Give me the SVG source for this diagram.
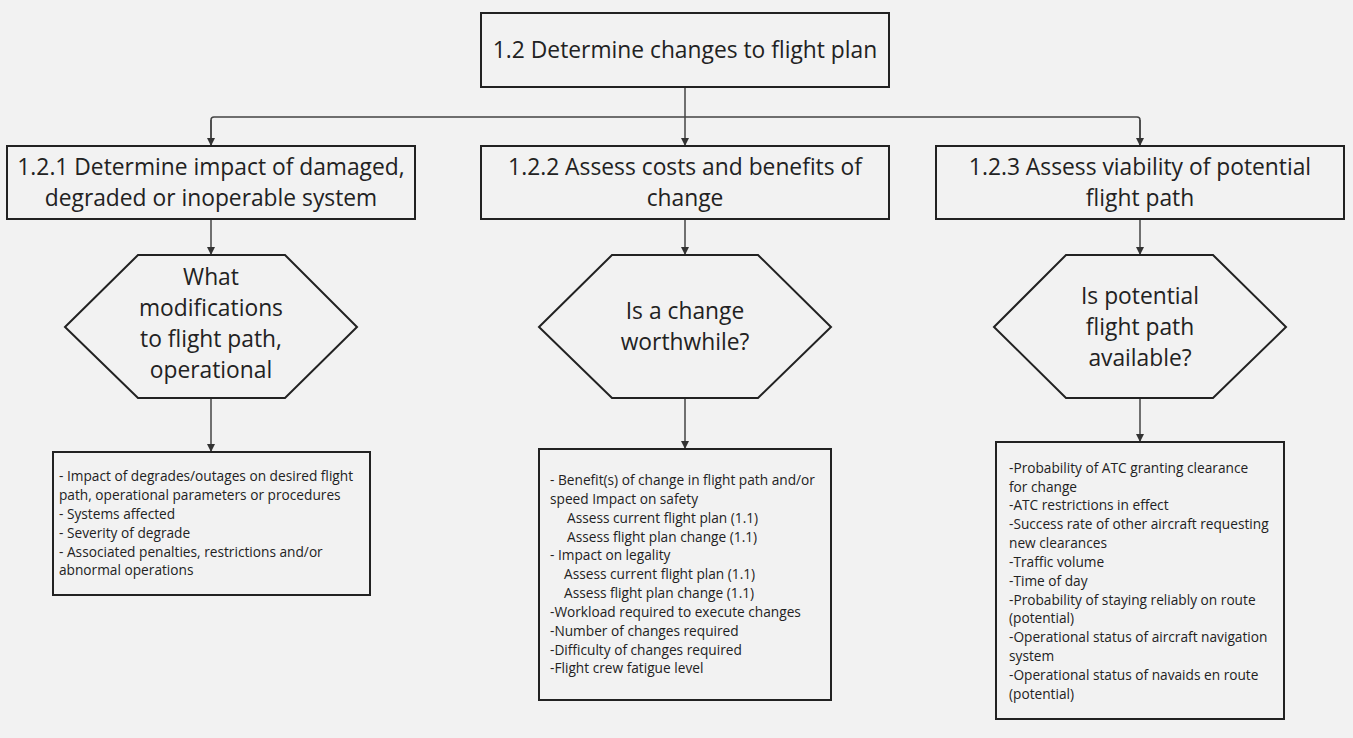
<svg xmlns="http://www.w3.org/2000/svg" width="1353" height="738" viewBox="0 0 1353 738">
<defs>
<marker id="arr" viewBox="0 0 10 10" refX="10" refY="5" markerWidth="8" markerHeight="8" markerUnits="userSpaceOnUse" orient="auto">
<path d="M0,0 L10,5 L0,10 z" fill="#333"/>
</marker>
<style>
.box{fill:#f2f2f2;stroke:#222;stroke-width:2}
.t{font-family:"Open Sans","Liberation Sans",sans-serif;font-size:22.8px;fill:#222;text-anchor:middle}
.b{font-family:"Open Sans","Liberation Sans",sans-serif;font-size:13.7px;fill:#222}
.c{fill:none;stroke:#444;stroke-width:1.5}
</style>
</defs>
<rect width="1353" height="738" fill="#f2f2f2"/>
<g id="connectors">
<path class="c" d="M685,87 V146" marker-end="url(#arr)"/>
<path class="c" d="M211,146 V120 Q211,117 214,117 H1137 Q1140,117 1140,120 V146" />
<path class="c" d="M211,120 V146" marker-end="url(#arr)"/>
<path class="c" d="M1140,120 V146" marker-end="url(#arr)"/>
<path class="c" d="M211,219 V255" marker-end="url(#arr)"/>
<path class="c" d="M685,219 V255" marker-end="url(#arr)"/>
<path class="c" d="M1140,219 V255" marker-end="url(#arr)"/>
<path class="c" d="M211,398 V452" marker-end="url(#arr)"/>
<path class="c" d="M685,398 V449" marker-end="url(#arr)"/>
<path class="c" d="M1140,398 V442" marker-end="url(#arr)"/>
</g>
<g id="n12">
<rect class="box" x="481" y="13" width="408" height="74"/>
<text class="t" x="685" y="58">1.2 Determine changes to flight plan</text>
</g>
<g id="n121">
<rect class="box" x="7" y="146" width="408" height="73"/>
<text class="t" x="211" y="175">1.2.1 Determine impact of damaged,</text>
<text class="t" x="211" y="206">degraded or inoperable system</text>
</g>
<g id="n122">
<rect class="box" x="481" y="146" width="408" height="73"/>
<text class="t" x="685" y="175">1.2.2 Assess costs and benefits of</text>
<text class="t" x="685" y="206">change</text>
</g>
<g id="n123">
<rect class="box" x="936" y="146" width="408" height="73"/>
<text class="t" x="1140" y="175">1.2.3 Assess viability of potential</text>
<text class="t" x="1140" y="206">flight path</text>
</g>
<g id="h1">
<polygon class="box" points="65,327 138,255 285,255 357,327 285,398 138,398"/>
<text class="t" x="211" y="285">What</text>
<text class="t" x="211" y="316">modifications</text>
<text class="t" x="211" y="347">to flight path,</text>
<text class="t" x="211" y="378">operational</text>
</g>
<g id="h2">
<polygon class="box" points="539,327 612,255 758,255 831,327 758,398 612,398"/>
<text class="t" x="685" y="319">Is a change</text>
<text class="t" x="685" y="350">worthwhile?</text>
</g>
<g id="h3">
<polygon class="box" points="994,327 1066,255 1213,255 1286,327 1213,398 1066,398"/>
<text class="t" x="1140" y="304">Is potential</text>
<text class="t" x="1140" y="335">flight path</text>
<text class="t" x="1140" y="366">available?</text>
</g>
<g id="d1">
<rect class="box" x="53" y="452" width="317" height="143"/>
<text class="b" x="59" y="481">- Impact of degrades/outages on desired flight</text>
<text class="b" x="59" y="500">path, operational parameters or procedures</text>
<text class="b" x="59" y="519">- Systems affected</text>
<text class="b" x="59" y="538">- Severity of degrade</text>
<text class="b" x="59" y="557">- Associated penalties, restrictions and/or</text>
<text class="b" x="59" y="575">abnormal operations</text>
</g>
<g id="d2">
<rect class="box" x="539" y="449" width="292" height="251"/>
<text class="b" x="550" y="485">- Benefit(s) of change in flight path and/or</text>
<text class="b" x="550" y="504">speed Impact on safety</text>
<text class="b" x="567" y="523">Assess current flight plan (1.1)</text>
<text class="b" x="567" y="542">Assess flight plan change (1.1)</text>
<text class="b" x="550" y="560">- Impact on legality</text>
<text class="b" x="564" y="579">Assess current flight plan (1.1)</text>
<text class="b" x="564" y="598">Assess flight plan change (1.1)</text>
<text class="b" x="550" y="617">-Workload required to execute changes</text>
<text class="b" x="550" y="636">-Number of changes required</text>
<text class="b" x="550" y="655">-Difficulty of changes required</text>
<text class="b" x="550" y="673">-Flight crew fatigue level</text>
</g>
<g id="d3">
<rect class="box" x="996" y="442" width="288" height="277"/>
<text class="b" x="1009" y="473">-Probability of ATC granting clearance</text>
<text class="b" x="1009" y="492">for change</text>
<text class="b" x="1009" y="510">-ATC restrictions in effect</text>
<text class="b" x="1009" y="529">-Success rate of other aircraft requesting</text>
<text class="b" x="1009" y="548">new clearances</text>
<text class="b" x="1009" y="567">-Traffic volume</text>
<text class="b" x="1009" y="586">-Time of day</text>
<text class="b" x="1009" y="605">-Probability of staying reliably on route</text>
<text class="b" x="1009" y="623">(potential)</text>
<text class="b" x="1009" y="642">-Operational status of aircraft navigation</text>
<text class="b" x="1009" y="661">system</text>
<text class="b" x="1009" y="680">-Operational status of navaids en route</text>
<text class="b" x="1009" y="699">(potential)</text>
</g>
</svg>
